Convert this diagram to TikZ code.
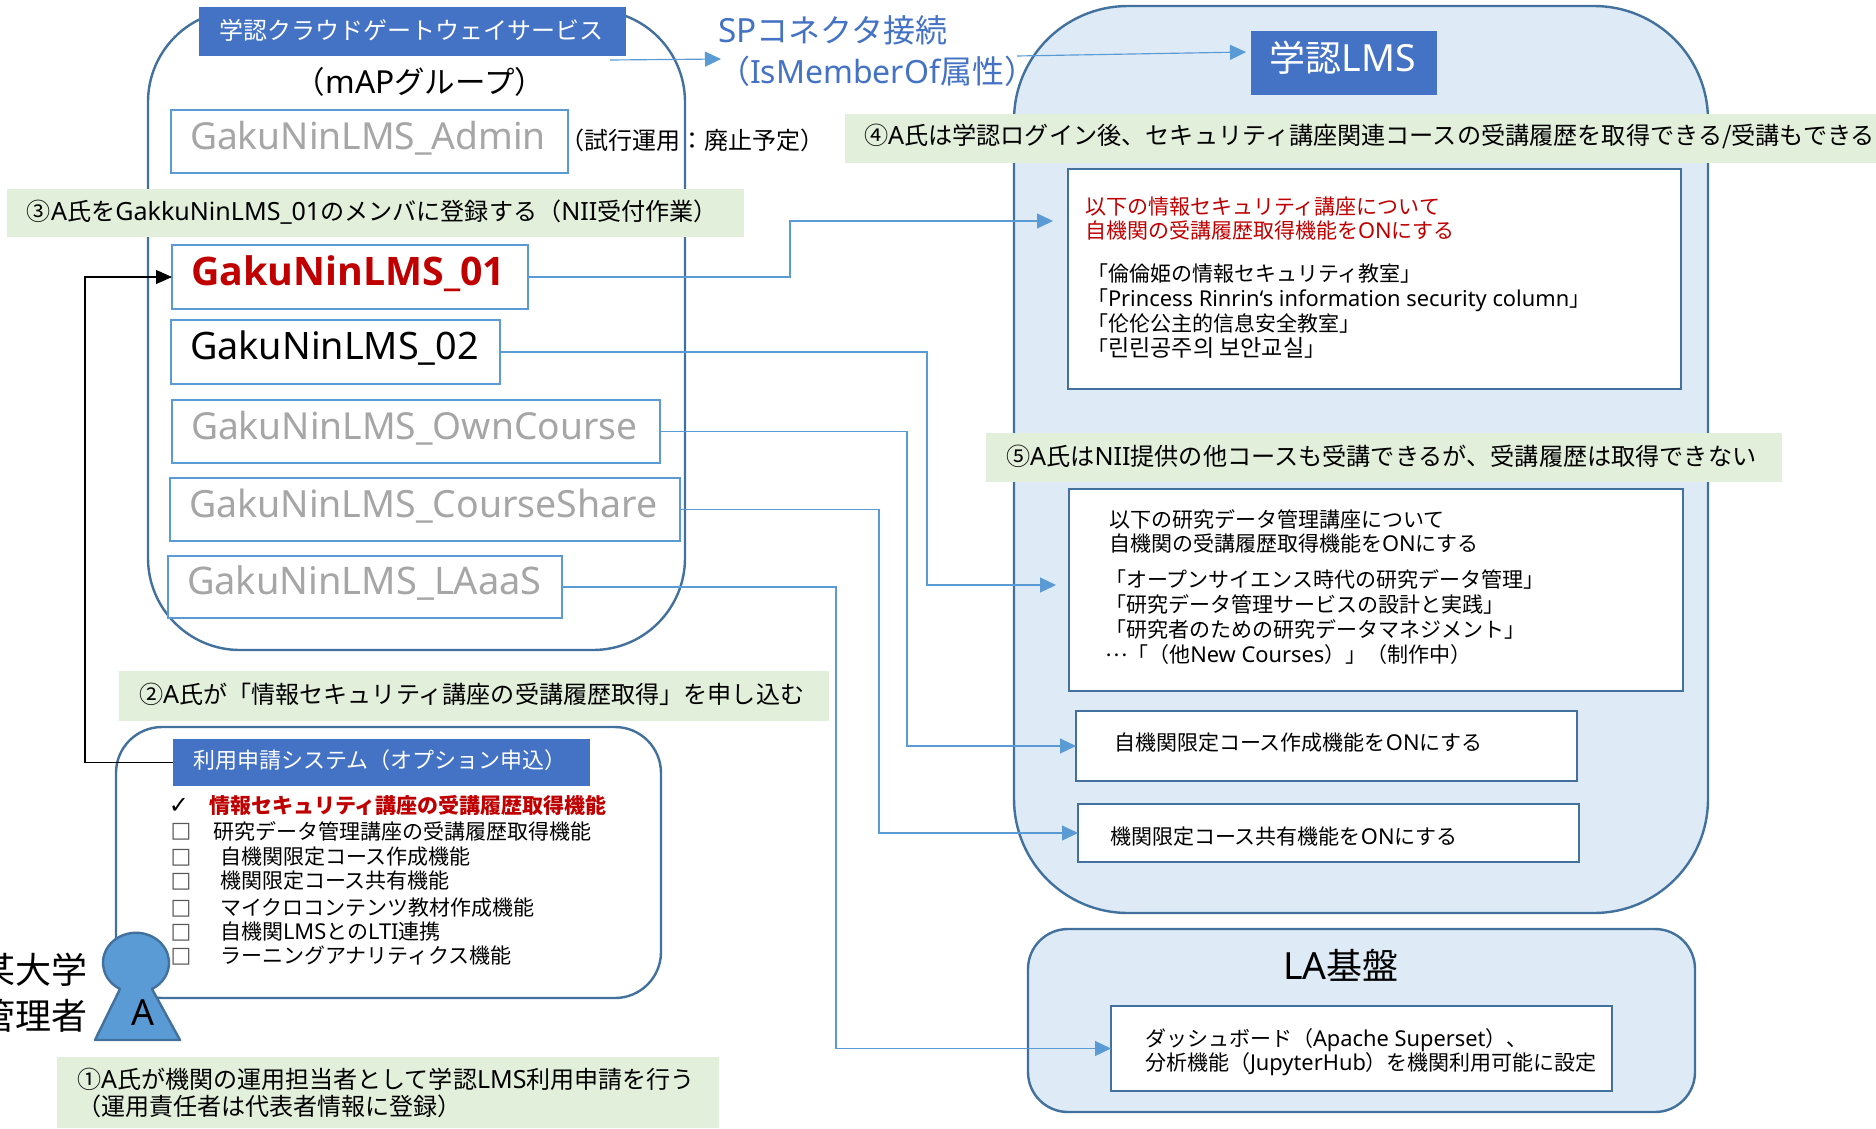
\documentclass[tikz,border=0pt]{standalone}
\usepackage{fontspec}
\usetikzlibrary{arrows.meta,shapes.geometric}
\setmainfont{Noto Sans CJK JP}
\newfontfamily\latf{Noto Sans}
\newfontfamily\latm[Scale=1.04]{Noto Sans}
\newfontfamily\latb[BoldFont={Open Sans Bold}]{Open Sans}
\newfontfamily\dejf{DejaVu Sans}
\newfontfamily\krf[Scale=1.1]{Noto Sans CJK KR}
\newfontfamily\scf{Noto Sans CJK SC}
\newcommand\Lt[1]{{\latm #1}}
\newcommand\fsz[2]{\fontsize{#1}{#2}\selectfont}
\newcommand\ST{\vrule height .88em depth .12em width 0pt\relax}
\definecolor{bandgreen}{HTML}{E2EFDA}
\definecolor{headblue}{HTML}{4472C4}
\definecolor{lmsfill}{HTML}{DEEBF7}
\definecolor{edgeblue}{HTML}{41719C}
\definecolor{linkblue}{HTML}{5B9BD5}
\definecolor{mutedgray}{HTML}{A6A6A6}
\definecolor{alertred}{HTML}{C00000}
\newcommand\BX[6]{\node[#1,minimum width={(#5-#3)*1pt},minimum height={(#6-#4)*1pt}] (#2) at ({(#3+#5)/2},{(#4+#6)/2}) {};}
\tikzset{
  every node/.style={inner sep=0pt,outer sep=0pt},
  container/.style={draw=edgeblue,line width=2.4pt,rectangle},
  head/.style={fill=headblue,rectangle},
  band/.style={fill=bandgreen,rectangle},
  groupbox/.style={draw=linkblue,fill=white,line width=2pt,rectangle},
  panel/.style={draw=edgeblue,fill=white,line width=2.6pt,rectangle},
  txt/.style={anchor=west,align=left,black},
  link/.style={draw=linkblue,line width=1.15pt,-{Triangle[length=16pt,width=15pt,fill=linkblue]}},
  blacklink/.style={draw=black,line width=1.3pt,-{Triangle[length=16pt,width=14pt,fill=black]}},
  tick/.style={anchor=center,font=\dejf\fsz{22}{26},black!65},
}
\begin{document}
\begin{tikzpicture}[x=1pt,y=-1pt]
\fill[white] (0,0) rectangle (1876,1128);
\useasboundingbox (0,0) rectangle (1876,1128);

% containers
\BX{container,fill=white,rounded corners=92pt}{gateway}{148}{10}{685}{650}
\BX{container,fill=lmsfill,rounded corners=114pt}{lms}{1014}{6}{1708}{913}
\BX{container,fill=lmsfill,rounded corners=40pt}{la}{1028}{929}{1695}{1112}
\BX{container,fill=white,rounded corners=46pt}{app}{116}{727}{661}{998}

% headers
\BX{head}{gwhead}{199}{7}{626}{56}
\BX{head}{lmshead}{1251}{31}{1437}{95}
\BX{head}{apphead}{173}{739}{590}{786}
\node[white,font=\fsz{24}{29}] (gwlabel) at (411,30.5) {学認クラウドゲートウェイサービス};
\node[white,font=\fsz{36}{43}] (lmslabel) at (1343,58) {学認\Lt{LMS}};
\node[txt,white,font=\fsz{22}{26}] (applabel) at (193,760) {\ST 利用申請システム（オプション申込）};

% group boxes
\BX{groupbox}{admin}{171}{110}{568}{173}
\BX{groupbox}{g01}{172}{245}{528}{309}
\BX{groupbox}{g02}{171}{320}{500}{384}
\BX{groupbox}{own}{172}{400}{660}{463}
\BX{groupbox}{share}{170}{478}{680}{541}
\BX{groupbox}{laas}{168}{556}{562}{618}
\node[txt,mutedgray,font=\latf\fsz{37.2}{44}] (adminlabel) at (190,136) {\ST GakuNinLMS\_Admin};
\node[txt,alertred,font=\latb\bfseries\fsz{39.3}{44}] (g01label) at (191,271) {\ST GakuNinLMS\_01};
\node[txt,font=\latf\fsz{37.8}{44}] (g02label) at (190,346) {\ST GakuNinLMS\_02};
\node[txt,mutedgray,font=\latf\fsz{37.2}{44}] (ownlabel) at (191,426) {\ST GakuNinLMS\_OwnCourse};
\node[txt,mutedgray,font=\latf\fsz{37.5}{44}] (sharelabel) at (189,504) {\ST GakuNinLMS\_CourseShare};
\node[txt,mutedgray,font=\latf\fsz{38}{44}] (laaslabel) at (187,581) {\ST GakuNinLMS\_LAaaS};
\node[font=\fsz{30.5}{35}] (mapgroup) at (420,82) {（\Lt{mAP}グループ）};
\node[txt,font=\fsz{24}{28}] (adminnote) at (560,140) {\ST （試行運用：廃止予定）};

% SP connector label and arrows
\node[txt,headblue,font=\fsz{32}{41}] (sp) at (718,50.5) {\ST \Lt{SP}コネクタ接続\\\ST （{\latf IsMemberOf}属性）};
\coordinate (sp1a) at (610,60);
\coordinate (sp1b) at (721,59);
\coordinate (sp2a) at (1017,56);
\coordinate (sp2b) at (1246,52);
\draw[link] (sp1a) -- (sp1b);
\draw[link] (sp2a) -- (sp2b);

% connectors
\coordinate (t1a) at (790,221);
\coordinate (t1) at (1053,221);
\coordinate (t2a) at (927,585);
\coordinate (t2) at (1056,585);
\coordinate (t3a) at (907,746);
\coordinate (t4a) at (879,833);
\coordinate (t5a) at (836,1048.5);
\coordinate (blk) at (85,500);

% bands
\BX{band}{band3}{7}{189}{744}{237}
\BX{band}{band4}{845}{114}{1876}{163}
\BX{band}{band5}{986}{433}{1782}{482}
\BX{band}{band2}{119}{671}{829}{721}
\BX{band}{band1}{57}{1057}{719}{1128}
\node[txt,font=\fsz{24.1}{29}] (b3) at (27,212) {\ST ③\Lt{A}氏を\Lt{GakkuNinLMS\_01}のメンバに登録する（\Lt{NII}受付作業）};
\node[txt,font=\fsz{24.15}{29}] (b4) at (864,136) {\ST ④\Lt{A}氏は学認ログイン後、セキュリティ講座関連コースの受講履歴を取得できる/受講もできる};
\node[txt,font=\fsz{24.15}{29}] (b5) at (1006,456) {\ST ⑤\Lt{A}氏は\Lt{NII}提供の他コースも受講できるが、受講履歴は取得できない};
\node[txt,font=\fsz{24.1}{29}] (b2) at (139,694) {\ST ②\Lt{A}氏が「情報セキュリティ講座の受講履歴取得」を申し込む};
\node[txt,font=\fsz{24.05}{27}] (b1) at (77,1092.5) {\ST ①\Lt{A}氏が機関の運用担当者として学認\Lt{LMS}利用申請を行う\\\ST （運用責任者は代表者情報に登録）};

% LMS panels
\BX{panel}{p1}{1068}{169}{1681}{389}
\BX{panel}{p2}{1069}{489}{1683}{691}
\BX{panel}{p3}{1076}{711}{1577}{781}
\BX{panel}{p4}{1078}{804}{1579}{862}
\BX{panel}{p5}{1111}{1006}{1612}{1091}
\node[txt,alertred,font=\fsz{21}{24}] (p1a) at (1085,219) {\ST 以下の情報セキュリティ講座について\\\ST 自機関の受講履歴取得機能を\Lt{ON}にする};
\node[txt,font=\fsz{21}{25}] (p1b) at (1087,311.5) {\ST 「倫倫姫の情報セキュリティ教室」\\\ST 「\Lt{Princess Rinrin‘s information security column}」\\\ST 「{\scf 伦伦公主的信息安全教室}」\\\ST 「{\krf 린린공주의 보안교실}」};
\node[txt,font=\fsz{21}{24}] (p2a) at (1109,532) {\ST 以下の研究データ管理講座について\\\ST 自機関の受講履歴取得機能を\Lt{ON}にする};
\node[txt,font=\fsz{21}{25}] (p2b) at (1105,617.5) {\ST 「オープンサイエンス時代の研究データ管理」\\\ST 「研究データ管理サービスの設計と実践」\\\ST 「研究者のための研究データマネジメント」\\\ST \raisebox{.33em}{…}「（他\Lt{New Courses}）」（制作中）};
\node[txt,font=\fsz{21}{25}] (p3a) at (1114,743) {\ST 自機関限定コース作成機能を\Lt{ON}にする};
\node[txt,font=\fsz{21}{25}] (p4a) at (1110,837) {\ST 機関限定コース共有機能を\Lt{ON}にする};
\node[txt,font=\fsz{21}{24.5}] (p5a) at (1145,1052) {\ST ダッシュボード（\Lt{Apache Superset}）、\\\ST 分析機能（\Lt{JupyterHub}）を機関利用可能に設定};
\node[font=\fsz{36}{43}] (lalabel) at (1341,965) {\Lt{LA}基盤};

% connector paths
\draw[link] (g01.east) -| (t1a) -- (t1);
\draw[link] (g02.east) -| (t2a) -- (t2);
\draw[link] (own.east) -| (t3a) -- (p3.west);
\draw[link] (share.east) -| (t4a) -- (p4.west);
\draw[link] (laas.east) -| (t5a) -- (p5.west);
\draw[blacklink] (apphead.west) -| (blk) |- (g01.west);

% application list
\node[tick,font=\dejf\bfseries\fsz{24}{28},black] (ck1) at (179,806) {✓};
\node[txt,alertred,font=\bfseries\fsz{21}{25}] (o1) at (209,806) {\ST 情報セキュリティ講座の受講履歴取得機能};
\node[tick] (ck2) at (181,832) {□};
\node[txt,font=\fsz{21}{25}] (o2) at (213,832) {\ST 研究データ管理講座の受講履歴取得機能};
\node[tick] (ck3) at (181,858) {□};
\node[txt,font=\fsz{21}{25}] (o3) at (220,857) {\ST 自機関限定コース作成機能};
\node[tick] (ck4) at (181,882) {□};
\node[txt,font=\fsz{21}{25}] (o4) at (220,881) {\ST 機関限定コース共有機能};
\node[tick] (ck5) at (181,909) {□};
\node[txt,font=\fsz{21}{25}] (o5) at (220,908) {\ST マイクロコンテンツ教材作成機能};
\node[tick] (ck6) at (181,933) {□};
\node[txt,font=\fsz{21}{25}] (o6) at (220,932) {\ST 自機関\Lt{LMS}との\Lt{LTI}連携};
\node[tick] (ck7) at (181,957) {□};
\node[txt,font=\fsz{21}{25}] (o7) at (220,956) {\ST ラーニングアナリティクス機能};

% person
\draw[draw=edgeblue,fill=linkblue,line width=2.4pt,line join=round]
  (120,989) arc[start angle=241,end angle=-61,x radius=33pt,y radius=30pt]
  -- (180,1040) -- (95,1040) -- cycle;
\node[font=\latf\fsz{36}{42}] (personA) at (143,1013) {A};
\node[anchor=east,align=right,font=\fsz{36}{46}] (role) at (88,993) {\ST 某大学\\\ST 管理者};
\end{tikzpicture}
\end{document}
